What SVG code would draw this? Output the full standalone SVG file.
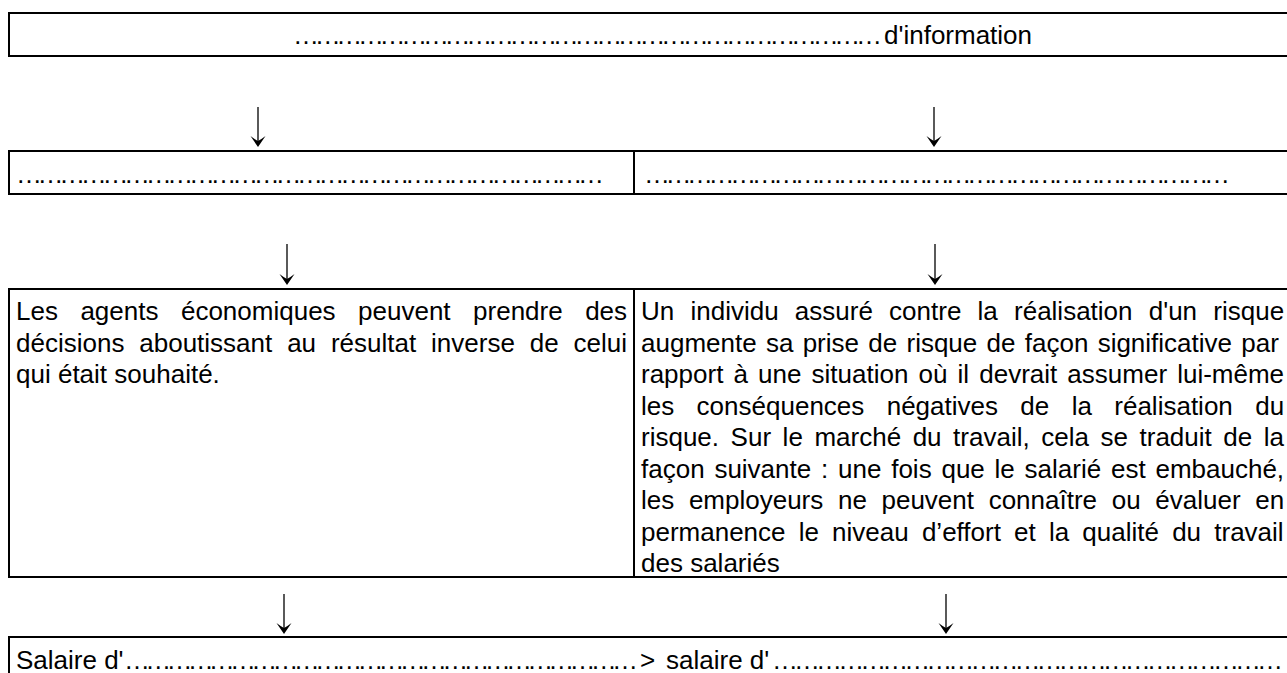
<svg xmlns="http://www.w3.org/2000/svg" width="1287" height="673" viewBox="0 0 1287 673">
<style>
.box{fill:#fff;stroke:#000;stroke-width:2}
text{font-family:"Liberation Sans",Arial,sans-serif;font-size:26px;fill:#000}
.conn{stroke:#000;stroke-width:1.3;fill:none;marker-end:url(#ah)}
</style>
<defs>
<marker id="ah" markerUnits="userSpaceOnUse" viewBox="-7 -9 15 18" markerWidth="15" markerHeight="18" refX="0" refY="0" orient="auto">
<path d="M6,0 L-5,-7.5 Q-1.5,-3 0,0 Q-1.5,3 -5,7.5 Z" fill="#000"/>
</marker>
</defs>
<g id="node-top">
<rect class="box" x="9" y="13" width="1300" height="43"/>
<text x="293" y="43.5" textLength="589" lengthAdjust="spacing">&#8230;&#8230;&#8230;&#8230;&#8230;&#8230;&#8230;&#8230;&#8230;&#8230;&#8230;&#8230;&#8230;&#8230;&#8230;&#8230;&#8230;&#8230;&#8230;&#8230;&#8230;&#8230;&#8230;&#8230;&#8230;&#8230;&#8230;</text>
<text x="884" y="43.5">d'information</text>
</g>
<g id="node-row2-left">
<rect class="box" x="9" y="151" width="625" height="43"/>
<text x="16" y="182.5" textLength="588" lengthAdjust="spacing">&#8230;&#8230;&#8230;&#8230;&#8230;&#8230;&#8230;&#8230;&#8230;&#8230;&#8230;&#8230;&#8230;&#8230;&#8230;&#8230;&#8230;&#8230;&#8230;&#8230;&#8230;&#8230;&#8230;&#8230;&#8230;&#8230;&#8230;</text>
</g>
<g id="node-row2-right">
<rect class="box" x="634" y="151" width="675" height="43"/>
<text x="644" y="182.5" textLength="586" lengthAdjust="spacing">&#8230;&#8230;&#8230;&#8230;&#8230;&#8230;&#8230;&#8230;&#8230;&#8230;&#8230;&#8230;&#8230;&#8230;&#8230;&#8230;&#8230;&#8230;&#8230;&#8230;&#8230;&#8230;&#8230;&#8230;&#8230;&#8230;&#8230;</text>
</g>
<g id="node-row3-left">
<rect class="box" x="9" y="289" width="625" height="288"/>
<text x="16" y="320" style="word-spacing:15.25px">Les agents économiques peuvent prendre des</text>
<text x="16" y="351.5" style="word-spacing:7.66px">décisions aboutissant au résultat inverse de celui</text>
<text x="16" y="383">qui était souhaité.</text>
</g>
<g id="node-row3-right">
<rect class="box" x="634" y="289" width="675" height="288"/>
<text x="641" y="320" style="word-spacing:8.99px">Un individu assuré contre la réalisation d'un risque</text>
<text x="641" y="351.5" style="word-spacing:2.05px">augmente sa prise de risque de façon significative par</text>
<text x="641" y="383" style="word-spacing:2.89px">rapport à une situation où il devrait assumer lui-même</text>
<text x="641" y="414.5" style="word-spacing:15.16px">les conséquences négatives de la réalisation du</text>
<text x="641" y="446" style="word-spacing:4.33px">risque. Sur le marché du travail, cela se traduit de la</text>
<text x="641" y="477.5" style="word-spacing:2.56px">façon suivante : une fois que le salarié est embauché,</text>
<text x="641" y="509" style="word-spacing:7.42px">les employeurs ne peuvent connaître ou évaluer en</text>
<text x="641" y="540.5" style="word-spacing:5.95px">permanence le niveau d’effort et la qualité du travail</text>
<text x="641" y="572">des salariés</text>
</g>
<g id="node-bottom">
<rect class="box" x="9" y="637" width="1300" height="60"/>
<text x="16" y="669">Salaire d'</text>
<text x="124" y="669" textLength="514" lengthAdjust="spacing">&#8230;&#8230;&#8230;&#8230;&#8230;&#8230;&#8230;&#8230;&#8230;&#8230;&#8230;&#8230;&#8230;&#8230;&#8230;&#8230;&#8230;&#8230;&#8230;&#8230;&#8230;&#8230;&#8230;&#8230;</text>
<text x="640" y="669">&gt;</text>
<text x="666" y="669">salaire d'</text>
<text x="772" y="669" textLength="511" lengthAdjust="spacing">&#8230;&#8230;&#8230;&#8230;&#8230;&#8230;&#8230;&#8230;&#8230;&#8230;&#8230;&#8230;&#8230;&#8230;&#8230;&#8230;&#8230;&#8230;&#8230;&#8230;&#8230;&#8230;&#8230;</text>
</g>
<g id="connectors">
<path class="conn" d="M258,107 V141"/>
<path class="conn" d="M934,107 V141"/>
<path class="conn" d="M287,244 V279"/>
<path class="conn" d="M935,244 V279"/>
<path class="conn" d="M284,594 V628"/>
<path class="conn" d="M946,594 V628"/>
</g>
</svg>
